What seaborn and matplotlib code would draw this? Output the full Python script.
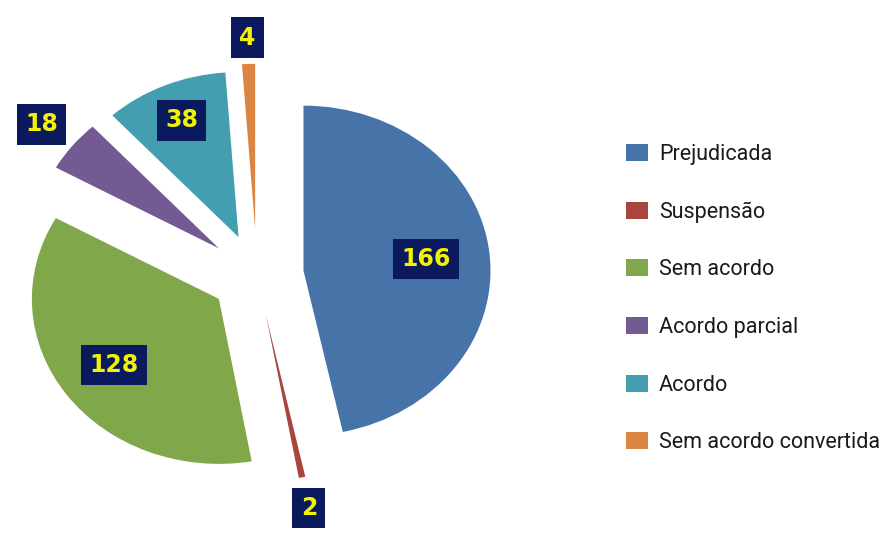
import numpy as np
import matplotlib
matplotlib.use("Agg")
import matplotlib.pyplot as plt
import seaborn as sns

categories = ["Prejudicada", "Suspensão", "Sem acordo", "Acordo parcial", "Acordo", "Sem acordo convertida"]
values = [166, 2, 128, 18, 38, 4]
colors = ["#4674a9", "#a8453f", "#80a84a", "#735a92", "#439fb0", "#dc8442"]
explode = [0.25, 0.25, 0.25, 0.26, 0.25, 0.28]
label_dist = [0.66, 1.19, 0.69, 1.21, 0.77, 1.16]

sns.set_theme(style="white")
plt.rcParams['font.family'] = ['Roboto', 'DejaVu Sans']

W, H = 883, 556
fig = plt.figure(figsize=(W / 100, H / 100), dpi=100)
ax = fig.add_axes([0, 0, 1, 1])

wedges, _ = ax.pie(values, colors=colors, explode=explode, startangle=90,
                   counterclock=False, radius=1.0,
                   wedgeprops=dict(linewidth=0, antialiased=True))

# pie geometry in pixels: center (257, 275), rx 187, ry 165
cx, cy, rx, ry = 257, 275, 187, 165
ax.set_xlim(-cx / rx, (W - cx) / rx)
ax.set_ylim((cy - H) / ry, cy / ry)
ax.set_aspect('auto')
ax.axis('off')

for w, v, d in zip(wedges, values, label_dist):
    mid = np.deg2rad((w.theta1 + w.theta2) / 2)
    x = w.center[0] + d * np.cos(mid)
    y = w.center[1] + d * np.sin(mid)
    ax.text(x, y, str(v), ha='center', va='center', fontsize=17,
            fontweight='bold', family='DejaVu Sans', color='#f2f205',
            bbox=dict(boxstyle='square,pad=0.35', fc='#0b1a5c', ec='none'))

leg = fig.legend(wedges, categories, loc='upper left',
                 bbox_to_anchor=(626 / W, 1 - 144 / H), frameon=False,
                 fontsize=15.5, handlelength=1.02, handleheight=0.84,
                 handletextpad=0.51, labelspacing=1.7, borderpad=0,
                 borderaxespad=0)
for t in leg.get_texts():
    t.set_color('#1a1a1a')

fig.savefig("out.png", dpi=100, facecolor='white')
